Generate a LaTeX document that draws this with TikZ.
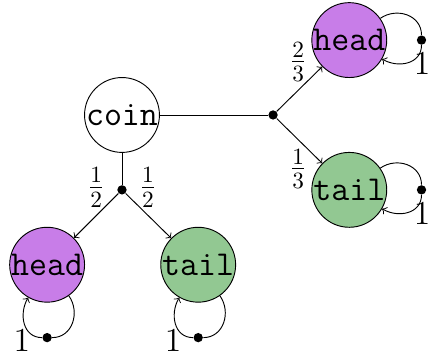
\documentclass[tikz,border=0pt]{standalone}
\usetikzlibrary{positioning}
\definecolor{headcol}{RGB}{200,125,232}
\definecolor{tailcol}{RGB}{146,200,146}
\begin{document}
        \begin{tikzpicture}[
                on grid,
                font=\Large,
                state/.style={circle,draw,minimum size=1.13cm,inner sep=0pt,font=\fontsize{15}{18}\selectfont\ttfamily},
                headstate/.style={state,fill=headcol},
                tailstate/.style={state,fill=tailcol},
                prob/.style={circle,fill,inner sep=0pt,minimum size=4pt},
                loop/.style={looseness=1.15}
            ]

            \useasboundingbox (-1.841,-3.667) rectangle (4.618,1.735);

            \node[state] (coin) {coin};

            \node[prob, right=2.28cm of coin] (dr) {};
            \node[headstate, above right=1.13cm and 1.15cm of dr] (hr) {head};
            \node[tailstate, below right=1.13cm and 1.15cm of dr] (tr) {tail};

            \node[prob, below=1.13cm of coin] (dl) {};
            \node[headstate, below left=1.13cm and 1.13cm of dl] (hl) {head};
            \node[tailstate, below right=1.13cm and 1.15cm of dl] (tl) {tail};

            \node[prob, right=1.09cm of hr] (hrl) {};
            \node[prob, right=1.09cm of tr] (trl) {};
            \node[prob, below=1.10cm of hl] (hll) {};
            \node[prob, below=1.10cm of tl] (tll) {};

            \node[above right=.8cm and .38cm of dr] (phr) {$\frac{2}{3}$};
            \node[below right=.815cm and .38cm of dr] (ptr) {$\frac{1}{3}$};
            \node[above left=.03cm and .39cm of dl] (phl) {$\frac{1}{2}$};
            \node[above right=.03cm and .39cm of dl] (ptl) {$\frac{1}{2}$};

            \node[below right=.36cm and .01cm of hrl] (qhr) {$1$};
            \node[below right=.36cm and .01cm of trl] (qtr) {$1$};
            \node[below left=.05cm and .38cm of hll] (qhl) {$1$};
            \node[below left=.05cm and .38cm of tll] (qtl) {$1$};

            \draw (coin) -- (dr);
            \draw[->] (dr) -- (hr);
            \draw[->] (dr) -- (tr);
            \draw (coin) -- (dl);
            \draw[->] (dl) -- (hl);
            \draw[->] (dl) -- (tl);

            \draw (hr) to[loop,out=35,in=90] (hrl);
            \draw[->] (hrl) to[loop,out=-90,in=-30] (hr);
            \draw (tr) to[loop,out=35,in=90] (trl);
            \draw[->] (trl) to[loop,out=-90,in=-30] (tr);
            \draw (hl) to[loop,out=-55,in=0] (hll);
            \draw[->] (hll) to[loop,out=180,in=-120] (hl);
            \draw (tl) to[loop,out=-55,in=0] (tll);
            \draw[->] (tll) to[loop,out=180,in=-120] (tl);

        \end{tikzpicture}
\end{document}
